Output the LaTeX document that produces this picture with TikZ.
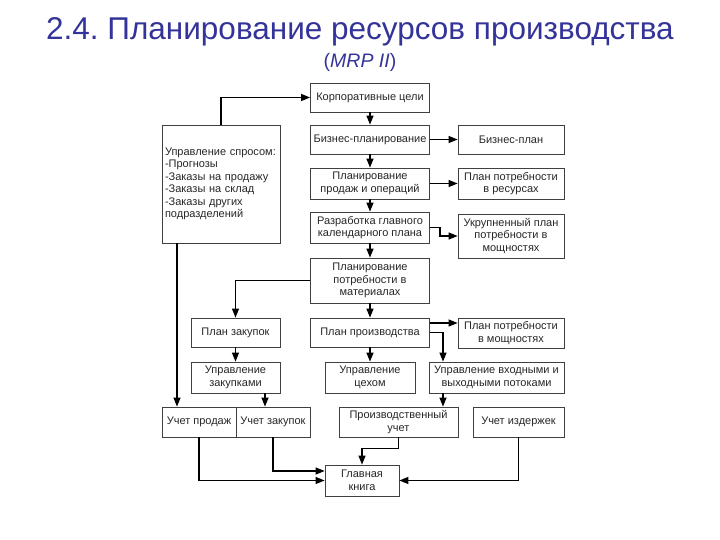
\documentclass[tikz,border=0pt]{standalone}
\usepackage{fontspec}
\setmainfont{Liberation Sans}
\usetikzlibrary{arrows.meta}

\begin{document}
\frenchspacing
\begin{tikzpicture}[x=1pt,y=-1pt,
	box/.style={draw=black!75,line width=0.8pt,align=center,inner sep=2pt,
		font=\fontsize{11}{12.5}\selectfont,text=black!85},
	arr/.style={line width=1.2pt,-{Triangle[length=9pt,width=7pt]}},
	title/.style={font=\fontsize{31.5}{36}\selectfont,text=ttlblue}]
	\definecolor{ttlblue}{RGB}{51,51,153}
	\useasboundingbox (0,0) rectangle (720,540);
		\node[title] (ttl) at (360,32) {2.4. Планирование ресурсов производства};
		\node[font=\fontsize{19.5}{22}\selectfont,text=ttlblue] (sub) at (360,62) {(\textit{MRP II})};

		\node[box,minimum width=119,minimum height=29] (korp) at (370,97.5) {Корпоративные цели};
		\node[box,minimum width=119,minimum height=29] (bizplan) at (370,139.5) {Бизнес-планирование};
		\node[box,minimum width=119,minimum height=31] (prodop) at (370,183.5) {Планирование\\продаж и операций};
		\node[box,minimum width=119,minimum height=31] (mps) at (370,227.5) {Разработка главного\\календарного плана};
		\node[box,minimum width=119,minimum height=45] (mrp) at (370,280.5) {Планирование\\потребности в\\материалах};
		\node[box,minimum width=119,minimum height=29] (prodplan) at (370,332.5) {План производства};
		\node[box,minimum width=90,minimum height=31] (shop) at (370,377.5) {Управление\\цехом};

		\node[box,minimum width=118,minimum height=118,text width=112pt,align=left,inner sep=3pt] (demand) at (221,184)
			{Управление спросом:\\-Прогнозы\\-Заказы на продажу\\-Заказы на склад\\-Заказы других\\подразделений};
		\node[box,minimum width=89,minimum height=29] (purch) at (235.5,332.5) {План закупок};
		\node[box,minimum width=89,minimum height=31] (purchmgmt) at (235.5,377.5) {Управление\\закупками};

		\node[box,minimum width=106,minimum height=29] (bplan) at (511,139.5) {Бизнес-план};
		\node[box,minimum width=106,minimum height=31] (resreq) at (511,183.5) {План потребности\\в ресурсах};
		\node[box,minimum width=106,minimum height=44] (rccp) at (511,236) {Укрупненный план\\потребности в\\мощностях};
		\node[box,minimum width=106,minimum height=30] (crp) at (511,333) {План потребности\\в мощностях};
		\node[box,minimum width=135,minimum height=31] (io) at (496.5,377.5) {Управление входными и\\выходными потоками};

		\node[box,minimum width=74,minimum height=30] (sales) at (199,422) {Учет продаж};
		\node[box,minimum width=74,minimum height=30] (pacct) at (273,422) {Учет закупок};
		\node[box,minimum width=119,minimum height=30] (prodacct) at (398.5,422) {Производственный\\учет};
		\node[box,minimum width=91,minimum height=30] (cost) at (518.5,422) {Учет издержек};
		\node[box,minimum width=74,minimum height=31] (ledger) at (362,480.5) {Главная\\книга};

		\foreach \a/\b in {korp/bizplan,bizplan/prodop,prodop/mps,mps/mrp,mrp/prodplan,prodplan/shop,purch/purchmgmt}
			\draw[arr] (\a) -- (\b);
		\draw[arr] (demand.north) |- (korp.west);
		\draw[arr] ([xshift=-44pt]demand.south) -- ([xshift=-44pt]demand.south |- sales.north);
		\draw[arr] (bizplan.east) -- (bplan.west);
		\draw[arr] (prodop.east) -- (resreq.west);
		\draw[arr] (mps.east) -- ++(10,0) |- (rccp.west);
		\draw[arr] (mrp.west) -| (purch.north);
		\draw[arr] ([yshift=9.5pt]prodplan.east) -- ([yshift=9.5pt]prodplan.east -| crp.west);
		\draw[arr] (prodplan.east) -| ([xshift=-53.5pt]io.north);
		\draw[arr] ([xshift=-53.5pt]io.south) -- ([xshift=-53.5pt]io.south |- prodacct.north);
		\draw[arr] ([xshift=29.5pt]purchmgmt.south) -- ([xshift=29.5pt]purchmgmt.south |- pacct.north);
		\draw[arr] (prodacct.south) -- ++(0,11) -| (ledger.north);
		\draw[arr] (sales.south) |- (ledger.west);
		\draw[arr] (pacct.south) |- ([yshift=9.5pt]ledger.west);
		\draw[arr] (cost.south) |- (ledger.east);
\end{tikzpicture}
\end{document}
